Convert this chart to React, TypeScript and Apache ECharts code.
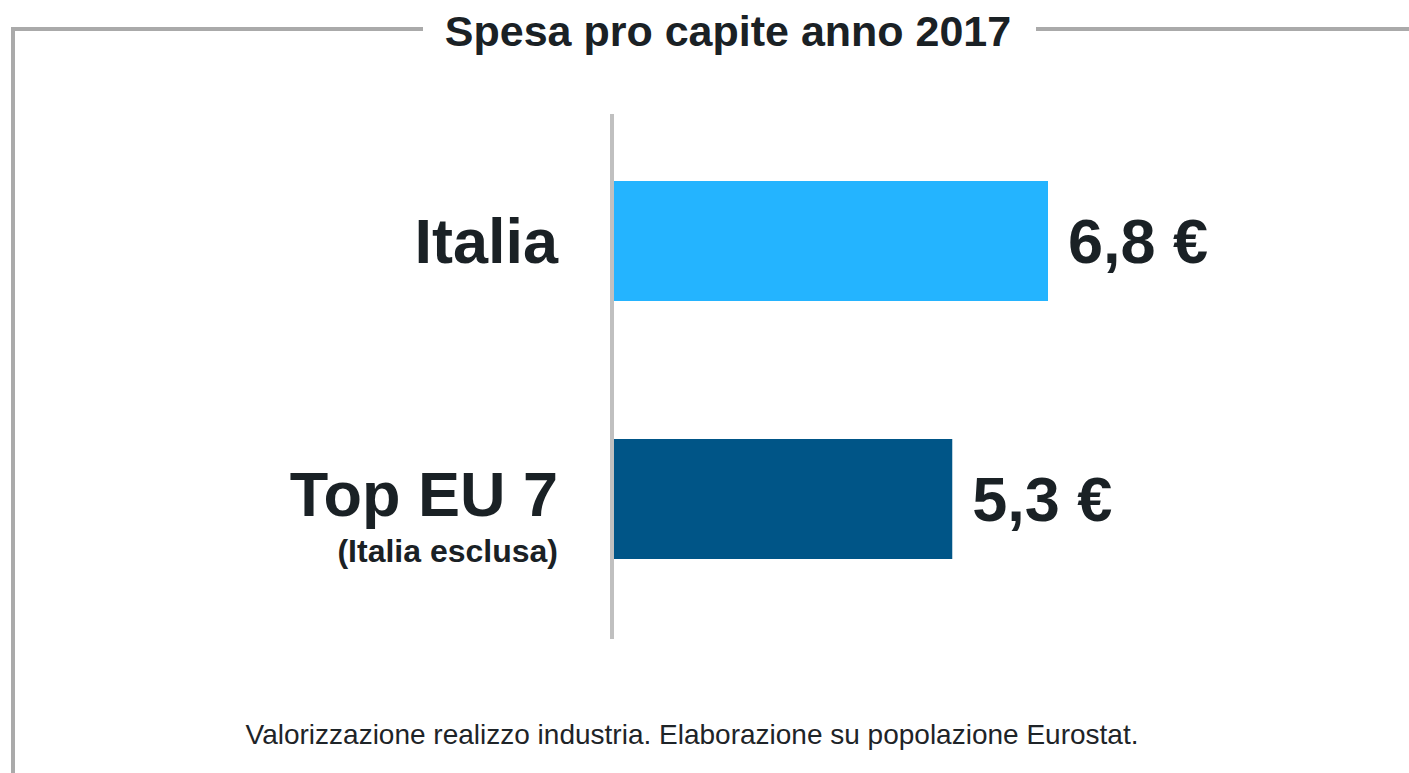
import React, { useEffect, useRef } from "react";
import * as echarts from "echarts";

const categories = ["Italia", "Top EU 7"];
const subLabels = ["", "(Italia esclusa)"];
const values = [6.8, 5.3];
const barColors = ["#24b4ff", "#005587"];
const titleText = "Spesa pro capite anno 2017";
const footnote = "Valorizzazione realizzo industria. Elaborazione su popolazione Eurostat.";

const FONT = "Liberation Sans, Arial, Helvetica, sans-serif";
const TEXT = "#1a2125";
const FRAME = "#aaaaaa";

export default function App() {
  const ref = useRef<HTMLDivElement>(null);
  useEffect(() => {
    if (!ref.current) return;
    const chart = echarts.init(ref.current, null, { renderer: "svg" });
    chart.setOption({
      animation: false,
      backgroundColor: "#ffffff",
      textStyle: { fontFamily: FONT },
      grid: { left: 614, right: 361, top: 112, bottom: 145, containLabel: false },
      xAxis: {
        type: "value",
        min: 0,
        max: 6.8,
        show: false,
      },
      yAxis: {
        type: "category",
        data: categories,
        inverse: true,
        axisLine: { show: false },
        axisTick: { show: false },
        splitLine: { show: false },
        axisLabel: {
          margin: 56,
          align: "right",
          formatter: (val: string, idx: number) =>
            subLabels[idx] ? `{a|${val}}\n{b|${subLabels[idx]}}` : `{m|${val}}`,
          rich: {
            m: { fontSize: 63, fontWeight: "bold", color: TEXT, fontFamily: FONT, lineHeight: 70 },
            a: { fontSize: 63, fontWeight: "bold", color: TEXT, fontFamily: FONT, lineHeight: 104, align: "right" },
            b: { fontSize: 32, fontWeight: "bold", color: TEXT, fontFamily: FONT, lineHeight: 10, align: "right" },
          },
        },
      },
      series: [
        {
          type: "bar",
          barWidth: 120,
          data: values.map((v, i) => ({ value: v, itemStyle: { color: barColors[i] } })),
          label: {
            show: true,
            position: "right",
            distance: 20,
            fontSize: 63,
            fontWeight: "bold",
            fontFamily: FONT,
            color: TEXT,
            formatter: (p: any) => String(p.value).replace(".", ",") + " €",
          },
        },
      ],
      graphic: [
        { type: "line", shape: { x1: 11, y1: 29, x2: 423, y2: 29 }, style: { stroke: FRAME, lineWidth: 4 }, silent: true },
        { type: "line", shape: { x1: 1036, y1: 29, x2: 1409, y2: 29 }, style: { stroke: FRAME, lineWidth: 4 }, silent: true },
        { type: "line", shape: { x1: 13, y1: 27, x2: 13, y2: 773 }, style: { stroke: FRAME, lineWidth: 4 }, silent: true },
        { type: "line", shape: { x1: 612, y1: 114, x2: 612, y2: 639 }, style: { stroke: "#c0c0c0", lineWidth: 4 }, silent: true },
        {
          type: "text",
          x: 728,
          y: 31,
          style: {
            text: titleText,
            fontSize: 43,
            fontWeight: "bold",
            fontFamily: FONT,
            fill: TEXT,
            align: "center",
            verticalAlign: "middle",
          },
        },
        {
          type: "text",
          x: 692,
          y: 734,
          style: {
            text: footnote,
            fontSize: 28,
            fontFamily: FONT,
            fill: "#1e2428",
            align: "center",
            verticalAlign: "middle",
          },
        },
      ],
    });
    return () => chart.dispose();
  }, []);
  return (
    <div
      ref={ref}
      style={{ position: "fixed", left: 0, top: 0, width: 1409, height: 773, background: "#fff" }}
    />
  );
}
